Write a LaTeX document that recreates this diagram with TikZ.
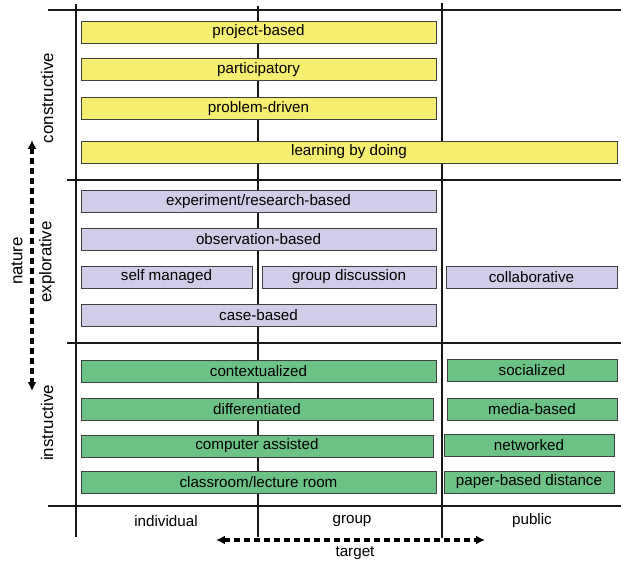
\documentclass[tikz,border=0pt]{standalone}
\usepackage{fontspec}
\setmainfont{Liberation Sans}
\usetikzlibrary{arrows.meta, positioning}

\definecolor{boxyellow}{RGB}{246,238,112}
\definecolor{boxpurple}{RGB}{208,205,232}
\definecolor{boxgreen}{RGB}{108,193,132}

\begin{document}
\begin{tikzpicture}[
        x=0.025cm, y=-0.025cm,
        method/.style={rectangle, draw=black!75, line width=0.6pt, minimum height=0.55cm, inner sep=0pt, font=\fontsize{10.8}{13}\selectfont},
        wide/.style={method, minimum width=8.875cm},
        half/.style={method, minimum width=4.275cm},
        gridline/.style={draw=black!90, line width=0.9pt},
        axis/.style={font=\fontsize{10.8}{13}\selectfont},
        dim/.style={rotate=90, font=\fontsize{12}{14}\selectfont},
        dimarrow/.style={{Latex[length=2.2mm,width=2.2mm]}-{Latex[length=2.2mm,width=2.2mm]}, line width=2.4pt, dash pattern=on 4.5pt off 2.6pt}
    ]
        \useasboundingbox (0,0) rectangle (621,563);

        % ----------------------------------------------------
        % GRID
        % ----------------------------------------------------
        \draw[gridline] (76,4) -- (76,537);
        \draw[gridline] (258,6) -- (258,537);
        \draw[gridline] (442,3) -- (442,538);
        \draw[gridline] (48,10) -- (621,10);
        \draw[gridline] (67,180) -- (621,180);
        \draw[gridline] (67,343) -- (621,343);
        \draw[gridline] (48,506) -- (621,506);

        % ----------------------------------------------------
        % CONSTRUCTIVE
        % ----------------------------------------------------
        \node[wide, fill=boxyellow] (project) at (258.5,32) {project-based};
        \node[wide, fill=boxyellow] (participatory) at (258.5,69.5) {participatory};
        \node[wide, fill=boxyellow] (problem) at (258.5,108.5) {problem-driven};
        \node[method, fill=boxyellow, minimum width=13.4cm] (doing) at (349,152) {learning by doing};

        % ----------------------------------------------------
        % EXPLORATIVE
        % ----------------------------------------------------
        \node[wide, fill=boxpurple] (experiment) at (258.5,201.5) {experiment/research-based};
        \node[wide, fill=boxpurple] (observation) at (258.5,239.5) {observation-based};
        \node[half, fill=boxpurple] (selfmanaged) at (166.5,277) {self managed};
        \node[half, fill=boxpurple, minimum width=4.35cm] (discussion) at (349,277) {group discussion};
        \node[half, fill=boxpurple] (collaborative) at (531.5,277) {collaborative};
        \node[wide, fill=boxpurple] (casebased) at (258.5,315.5) {case-based};

        % ----------------------------------------------------
        % INSTRUCTIVE
        % ----------------------------------------------------
        \node[wide, fill=boxgreen] (contextualized) at (258.5,371) {contextualized};
        \node[half, fill=boxgreen, minimum width=4.25cm] (socialized) at (532,370.5) {socialized};
        \node[wide, fill=boxgreen, minimum width=8.8cm] (differentiated) at (257,409) {differentiated};
        \node[half, fill=boxgreen, minimum width=4.25cm] (mediabased) at (532,409) {media-based};
        \node[wide, fill=boxgreen, minimum width=8.8cm] (computer) at (257,446) {computer assisted};
        \node[half, fill=boxgreen, minimum width=4.25cm] (networked) at (529,445.5) {networked};
        \node[wide, fill=boxgreen] (classroom) at (258.5,482.5) {classroom/lecture room};
        \node[half, fill=boxgreen, minimum width=4.25cm] (paperbased) at (529,482) {paper-based distance};

        % ----------------------------------------------------
        % AXES
        % ----------------------------------------------------
        \node[dim] (constructive) at (47,98) {constructive};
        \node[dim] (explorative) at (47,262) {explorative};
        \node[dim] (instructive) at (47,423) {instructive};
        \node[dim] (nature) at (17,261) {nature};
        \coordinate (natop) at (32,140);
        \coordinate (nabottom) at (32,391);
        \draw[dimarrow] (natop) -- (nabottom);

        \node[axis] (individual) at (166,521) {individual};
        \node[axis] (group) at (352,521) {group};
        \node[axis] (public) at (532,521) {public};
        \node[axis] (target) at (355,553) {target};
        \coordinate (taleft) at (216,540);
        \coordinate (taright) at (485,540);
        \draw[dimarrow] (taleft) -- (taright);

\end{tikzpicture}
\end{document}
